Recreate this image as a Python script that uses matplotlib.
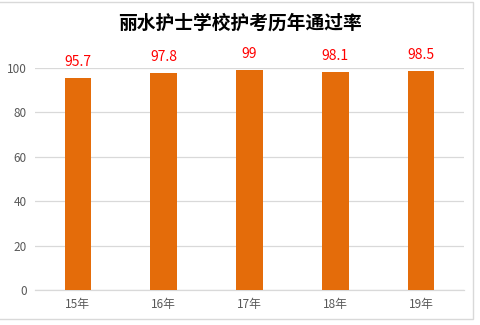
import matplotlib.pyplot as plt
from matplotlib.patches import Rectangle

plt.rcParams['font.family'] = ['Noto Sans CJK SC', 'DejaVu Sans']

years = ['15年', '16年', '17年', '18年', '19年']
rates = [95.7, 97.8, 99, 98.1, 98.5]
title = '丽水护士学校护考历年通过率'

fig = plt.figure(figsize=(4.81, 3.25), dpi=100)
ax = fig.add_axes([0.0728, 0.1077, 0.892, 0.683])

x = range(len(years))
bars = ax.bar(x, rates, width=0.31, color='#e46c0a', zorder=3)
for xi, v in zip(x, rates):
    ax.text(xi, v + 4, f'{v:g}', ha='center', va='bottom', color='#ff0000',
            fontsize=10, clip_on=False)

ax.set_xlim(-0.5, len(years) - 0.5)
ax.set_ylim(0, 100)
ax.set_yticks(range(0, 101, 20))
ax.set_xticks(list(x))
ax.set_xticklabels(years)
ax.tick_params(axis='both', length=0, labelsize=8.5, colors='#595959', pad=6)
ax.yaxis.grid(True, color='#d9d9d9', linewidth=0.9, zorder=0)
for s in ['top', 'right', 'left']:
    ax.spines[s].set_visible(False)
ax.spines['bottom'].set_color('#d9d9d9')
ax.spines['bottom'].set_linewidth(0.9)

fig.text(0.5, 0.93, title, ha='center', va='center', fontsize=13.5,
         fontweight='bold', color='#000000')

fig.patches.append(Rectangle((-0.01, 0.02), 0.9935, 0.975, transform=fig.transFigure,
                             fill=False, edgecolor='#d9d9d9', linewidth=1))

fig.savefig('out.png', dpi=100)
